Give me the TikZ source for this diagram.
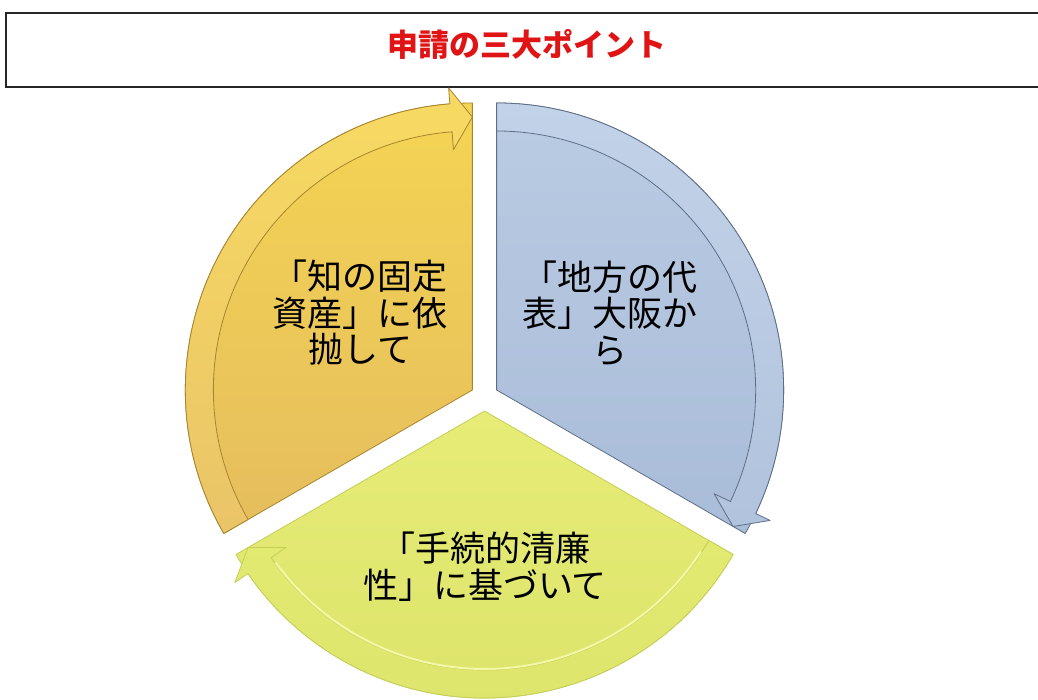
\documentclass[tikz,border=0pt]{standalone}
\usepackage{fontspec}
\newfontfamily\jp{Noto Sans CJK JP}
\definecolor{orTop}{HTML}{F4D453}
\definecolor{orBot}{HTML}{E5BD5E}
\definecolor{orBandTop}{HTML}{F7DA62}
\definecolor{orBandBot}{HTML}{EAC468}
\definecolor{orLine}{HTML}{A8852E}
\definecolor{blTop}{HTML}{BACBE3}
\definecolor{blBot}{HTML}{A9BCD8}
\definecolor{blBandTop}{HTML}{C2D2E8}
\definecolor{blBandBot}{HTML}{B1C3DD}
\definecolor{blLine}{HTML}{5E6E86}
\definecolor{grTop}{HTML}{E6EC76}
\definecolor{grBot}{HTML}{DCE36A}
\definecolor{grBandTop}{HTML}{E2EA72}
\definecolor{grBandBot}{HTML}{DDE46C}
\definecolor{grLine}{HTML}{C5CE55}
\definecolor{grHi}{HTML}{F3F7A8}
\definecolor{titleRed}{HTML}{E01414}
\begin{document}
\begin{tikzpicture}[x=1pt,y=1pt,
  txt/.style={font=\jp\fontsize{35}{36.5}\selectfont, align=center, inner sep=0pt, text=black},
  sectorline/.style={line width=0.8pt, line join=round}]
\useasboundingbox (0,0) rectangle (1038,700);
\fill[white] (0,0) rectangle (1038,700);
\def\R{287}
\coordinate (C) at (484.5,303);
\coordinate (O) at ([shift={(150:14)}]C);
\coordinate (B) at ([shift={(30:14)}]C);
\coordinate (G) at ([shift={(270:14)}]C);

% title box
\draw[line width=1.8pt, black!85] (1045,687) -- (6,687) -- (6,613) -- (1045,613);
\node[font=\jp\bfseries\fontsize{31}{31}\selectfont, text=titleRed, inner sep=0pt] (title) at (526.5,656) {申請の三大ポイント};

% orange sector
\shade[top color=orTop, bottom color=orBot, draw=orLine, sectorline]
  (O) -- ([shift={(210:\R)}]O) arc[start angle=210, end angle=90, radius=\R] -- cycle;
\shade[top color=orBandTop, bottom color=orBandBot, draw=orLine, sectorline]
  ([shift={(210:\R)}]O) arc[start angle=210, end angle=94.5, radius=\R]
  -- ([shift={(94.5:\R+16)}]O) -- ([shift={(90:\R-14)}]O)
  -- ([shift={(94.5:\R-46)}]O) -- ([shift={(94.5:\R-28)}]O)
  arc[start angle=94.5, end angle=210, radius=\R-28] -- cycle;

% blue sector
\shade[top color=blTop, bottom color=blBot, draw=blLine, sectorline]
  (B) -- ([shift={(90:\R)}]B) arc[start angle=90, end angle=-30, radius=\R] -- cycle;
\shade[top color=blBandTop, bottom color=blBandBot, draw=blLine, sectorline]
  ([shift={(90:\R)}]B) arc[start angle=90, end angle=-25.5, radius=\R]
  -- ([shift={(-25.5:\R+16)}]B) -- ([shift={(-30:\R-14)}]B)
  -- ([shift={(-25.5:\R-46)}]B) -- ([shift={(-25.5:\R-28)}]B)
  arc[start angle=-25.5, end angle=90, radius=\R-28] -- cycle;

% green sector
\shade[top color=grTop, bottom color=grBot, draw=grLine, sectorline]
  (G) -- ([shift={(330:\R)}]G) arc[start angle=330, end angle=210, radius=\R] -- cycle;
\shade[top color=grBandTop, bottom color=grBandBot, draw=grLine, sectorline]
  ([shift={(330:\R)}]G) arc[start angle=330, end angle=214.5, radius=\R]
  -- ([shift={(214.5:\R+16)}]G) -- ([shift={(210:\R-14)}]G)
  -- ([shift={(214.5:\R-46)}]G) -- ([shift={(214.5:\R-28)}]G)
  arc[start angle=214.5, end angle=330, radius=\R-28] -- cycle;
\draw[grHi, line width=2pt] ([shift={(327:\R-29)}]G) arc[start angle=327, end angle=216, radius=\R-29];

% texts
\node[txt] (t1) at (360,387) {「知の固定\\資産」に依\\抛して};
\node[txt] (t2) at (610,387) {「地方の代\\表」大阪か\\ら};
\node[txt] (t3) at (485,133.5) {「手続的清廉\\性」に基づいて};
\end{tikzpicture}
\end{document}
